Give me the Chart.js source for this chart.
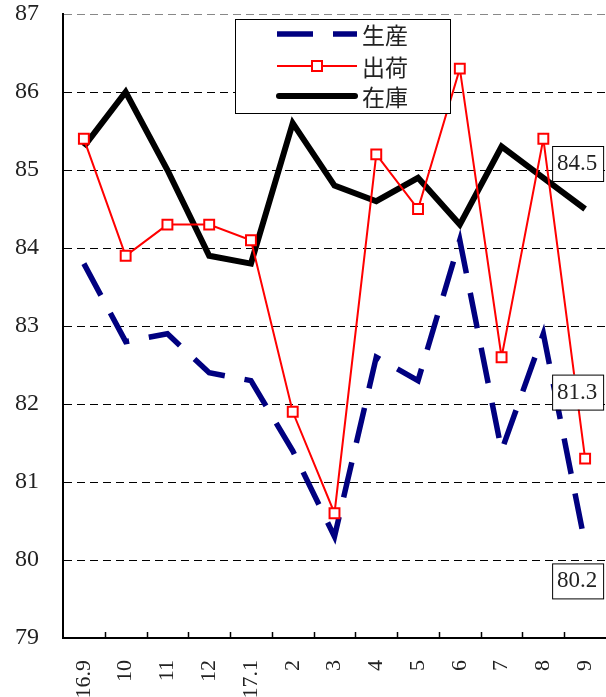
<!DOCTYPE html>
<html>
<head>
<meta charset="utf-8">
<script src="https://cdn.jsdelivr.net/npm/chart.js@4/dist/chart.umd.min.js"></script>
<style>
  html, body { margin: 0; padding: 0; background: #fff; }
  canvas { display: block; }
</style>
</head>
<body>
<canvas id="grafico" width="606" height="697"></canvas>
<script>
// Dados
const meses = ['16.9', '10', '11', '12', '17.1', '2', '3', '4', '5', '6', '7', '8', '9'];
const seisan = [83.8, 82.8, 82.9, 82.4, 82.3, 81.4, 80.3, 82.6, 82.3, 84.1, 81.4, 82.9, 80.2];
const shukka = [85.4, 83.9, 84.3, 84.3, 84.1, 81.9, 80.6, 85.2, 84.5, 86.3, 82.6, 85.4, 81.3];
const zaiko = [85.3, 86.0, 85.0, 83.9, 83.8, 85.6, 84.8, 84.6, 84.9, 84.3, 85.3, 84.9, 84.5];
const nomes = ['生産', '出荷', '在庫'];
const yTicks = [79, 80, 81, 82, 83, 84, 85, 86, 87];

const FONTE_NUM = "'Liberation Serif', 'DejaVu Serif', serif";
const FONTE_JP = "'Noto Sans CJK JP', sans-serif";

// Estender a área do gráfico até a borda direita do canvas
const ajusteArea = {
    id: 'ajusteArea',
    afterLayout(chart) {
        const d = chart.width - chart.chartArea.right;
        if (d > 0) {
            chart.chartArea.right += d;
            chart.chartArea.width += d;
            const x = chart.scales.x;
            x.right += d;
            x.width += d;
            x.configure();
        }
    }
};

// Marcas de divisão no eixo x (para dentro)
const marcasX = {
    id: 'marcasX',
    afterDatasetsDraw(chart) {
        const ctx = chart.ctx;
        const x = chart.scales.x;
        const area = chart.chartArea;
        const passo = (area.right - area.left) / meses.length;
        ctx.save();
        ctx.strokeStyle = '#000';
        ctx.lineWidth = 1.5;
        ctx.beginPath();
        for (let i = 1; i < meses.length; i++) {
            const px = Math.round(x.getPixelForValue(i) - passo / 2) + 0.5;
            ctx.moveTo(px, area.bottom);
            ctx.lineTo(px, area.bottom - 6);
        }
        ctx.stroke();
        ctx.restore();
    }
};

// Rótulos do último valor
const rotulos = {
    id: 'rotulos',
    afterDatasetsDraw(chart) {
        const ctx = chart.ctx;
        const x = chart.scales.x;
        const y = chart.scales.y;
        const ult = meses.length - 1;
        const itens = [
            { v: zaiko[ult], dy: -46 },
            { v: shukka[ult], dy: -67 },
            { v: seisan[ult], dy: 36 }
        ];
        ctx.save();
        ctx.font = '23px ' + FONTE_NUM;
        ctx.textAlign = 'center';
        ctx.textBaseline = 'middle';
        itens.forEach(it => {
            const cx = x.getPixelForValue(ult) - 8;
            const cy = y.getPixelForValue(it.v) + it.dy;
            ctx.fillStyle = '#fff';
            ctx.fillRect(cx - 25, cy - 17, 51, 35);
            ctx.strokeStyle = '#000';
            ctx.lineWidth = 1;
            ctx.strokeRect(cx - 25 + 0.5, cy - 17 + 0.5, 51, 35);
            ctx.fillStyle = '#222';
            ctx.fillText(it.v.toFixed(1), cx, cy + 1);
        });
        ctx.restore();
    }
};

// Legenda desenhada à mão
const legenda = {
    id: 'legenda',
    afterDraw(chart) {
        const ctx = chart.ctx;
        ctx.save();
        ctx.fillStyle = '#fff';
        ctx.fillRect(235, 19, 215, 94);
        ctx.strokeStyle = '#000';
        ctx.lineWidth = 1;
        ctx.strokeRect(235.5, 19.5, 215, 94);

        // 生産
        ctx.strokeStyle = '#000080';
        ctx.lineWidth = 5.5;
        ctx.setLineDash([36, 20]);
        ctx.beginPath();
        ctx.moveTo(277, 34);
        ctx.lineTo(357, 34);
        ctx.stroke();
        ctx.setLineDash([]);

        // 出荷
        ctx.strokeStyle = '#ff0000';
        ctx.lineWidth = 2;
        ctx.beginPath();
        ctx.moveTo(277, 66);
        ctx.lineTo(357, 66);
        ctx.stroke();
        ctx.fillStyle = '#fff';
        ctx.fillRect(312, 61, 10, 10);
        ctx.strokeRect(312, 61, 10, 10);

        // 在庫
        ctx.strokeStyle = '#000';
        ctx.lineWidth = 6;
        ctx.lineCap = 'round';
        ctx.beginPath();
        ctx.moveTo(279, 96);
        ctx.lineTo(355, 96);
        ctx.stroke();

        ctx.fillStyle = '#222';
        ctx.font = '23px ' + FONTE_JP;
        ctx.textAlign = 'left';
        ctx.textBaseline = 'middle';
        ctx.fillText(nomes[0], 362, 35);
        ctx.fillText(nomes[1], 362, 67);
        ctx.fillText(nomes[2], 362, 97);
        ctx.restore();
    }
};

function criarGrafico() {
    const ctx = document.getElementById('grafico').getContext('2d');
    new Chart(ctx, {
        type: 'line',
        data: {
            labels: meses,
            datasets: [
                {
                    label: nomes[1],
                    data: shukka,
                    borderColor: '#ff0000',
                    borderWidth: 2,
                    pointStyle: 'rect',
                    pointRadius: 7,
                    pointBorderWidth: 2,
                    pointBackgroundColor: '#fff',
                    pointBorderColor: '#ff0000',
                    tension: 0,
                    order: 1
                },
                {
                    label: nomes[2],
                    data: zaiko,
                    borderColor: '#000',
                    borderWidth: 6,
                    borderJoinStyle: 'miter',
                    pointRadius: 0,
                    tension: 0,
                    order: 2
                },
                {
                    label: nomes[0],
                    data: seisan,
                    borderColor: '#000080',
                    borderWidth: 5.5,
                    borderDash: [36, 20],
                    borderCapStyle: 'butt',
                    pointRadius: 0,
                    tension: 0,
                    order: 3
                }
            ]
        },
        options: {
            responsive: false,
            animation: false,
            clip: false,
            layout: { padding: { top: 14, right: 0, left: 0, bottom: 0 } },
            plugins: {
                legend: { display: false },
                tooltip: { enabled: false }
            },
            scales: {
                x: {
                    offset: true,
                    grid: { display: false, offset: true },
                    border: { display: true, color: '#000', width: 2 },
                    ticks: {
                        color: '#222',
                        font: { family: FONTE_NUM, size: 22 },
                        minRotation: 90,
                        maxRotation: 90,
                        autoSkip: false,
                        padding: 14
                    },
                    afterFit(scale) {
                        scale.height = 59;
                        scale.paddingLeft = 0;
                        scale.paddingRight = 0;
                    }
                },
                y: {
                    min: 79,
                    max: 87,
                    afterBuildTicks(scale) {
                        scale.ticks = yTicks.map(v => ({ value: v }));
                    },
                    grid: {
                        drawTicks: false,
                        color: c => (c.tick && c.tick.value === 87) ? '#888' : '#000',
                        lineWidth: 1
                    },
                    border: { display: true, color: '#000', width: 2, dash: [8, 5] },
                    ticks: {
                        color: '#222',
                        font: { family: FONTE_NUM, size: 24 },
                        padding: 24
                    },
                    afterFit(scale) {
                        scale.width = 63;
                        scale.paddingTop = 0;
                        scale.paddingBottom = 0;
                    }
                }
            }
        },
        plugins: [ajusteArea, marcasX, rotulos, legenda]
    });
}

document.addEventListener('DOMContentLoaded', criarGrafico);
</script>
</body>
</html>
